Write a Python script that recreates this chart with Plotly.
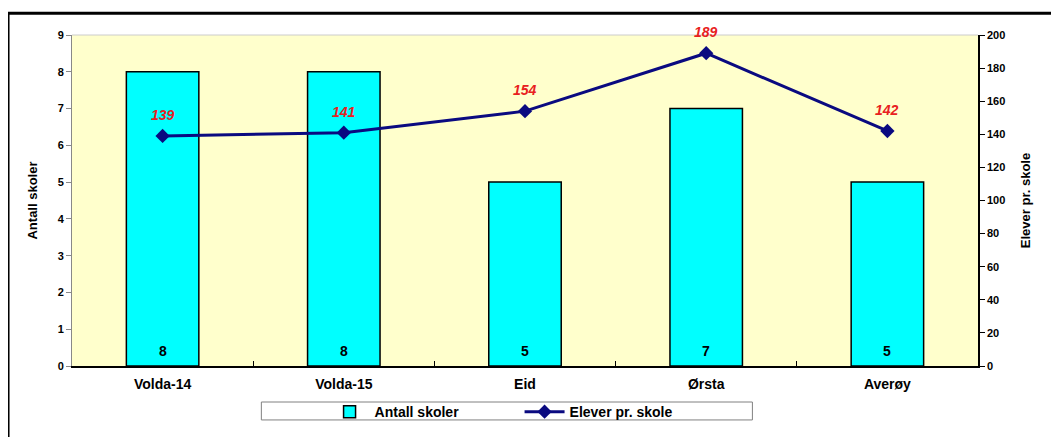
import plotly.graph_objects as go

# Data
kommuner = ["Volda-14", "Volda-15", "Eid", "Ørsta", "Averøy"]
antall_skoler = [8, 8, 5, 7, 5]
elever_pr_skole = [139, 141, 154, 189, 142]

FONT = "Liberation Sans, Arial, sans-serif"

fig = go.Figure()

# Bars: number of schools
fig.add_trace(go.Bar(
    x=kommuner,
    y=antall_skoler,
    name="Antall skoler",
    width=0.4,
    marker=dict(color="#00FFFF", line=dict(color="#000000", width=1.5)),
    yaxis="y",
))

# Line: pupils per school
fig.add_trace(go.Scatter(
    x=kommuner,
    y=elever_pr_skole,
    name="Elever pr. skole",
    mode="lines+markers",
    line=dict(color="#0A0A80", width=3),
    marker=dict(symbol="diamond", size=11, color="#0A0A80"),
    cliponaxis=False,
    yaxis="y2",
))

# Bar value labels near the bar base
for k, v in zip(kommuner, antall_skoler):
    fig.add_annotation(x=k, y=0, yref="y", text=str(v), showarrow=False,
                       yshift=15, font=dict(family=FONT, size=14, color="#000000", weight="bold"))

# Line value labels above the markers
for k, v in zip(kommuner, elever_pr_skole):
    fig.add_annotation(x=k, y=v, yref="y2", text=f"<i>{v}</i>", showarrow=False,
                       yshift=21, font=dict(family=FONT, size=14, color="#E82020", weight="bold"))

# page body adds an 8px offset, so the figure is drawn 8px smaller
fig.update_layout(
    width=1051,
    height=429,
    margin=dict(l=64, r=81, t=27, b=71, autoexpand=False),
    paper_bgcolor="white",
    plot_bgcolor="#FFFFCC",
    font=dict(family=FONT, size=11, color="#000000"),
    showlegend=True,
    legend=dict(
        orientation="h",
        x=0.494, xanchor="center",
        y=-0.091, yanchor="top",
        bgcolor="rgba(0,0,0,0)",
        font=dict(family=FONT, size=14, weight="bold"),
        entrywidth=140,
        itemwidth=40,
    ),
    xaxis=dict(
        showline=True, linecolor="#000000", linewidth=1.5,
        ticks="inside", tickson="boundaries", ticklen=5, tickcolor="#000000",
        tickfont=dict(family=FONT, size=14, weight="bold"),
        ticklabelstandoff=4,
        showgrid=False,
    ),
    yaxis=dict(
        range=[0, 9], dtick=1,
        showline=True, linecolor="#888888", linewidth=1,
        ticks="outside", ticklen=5, tickcolor="#888888",
        tickfont=dict(family=FONT, size=11, weight="bold"),
        showgrid=False, zeroline=False,
        title=dict(text="Antall skoler", font=dict(family=FONT, size=13, weight="bold"), standoff=17),
    ),
    yaxis2=dict(
        range=[0, 200], dtick=20,
        overlaying="y", side="right",
        showline=True, linecolor="#000000", linewidth=1.5,
        ticks="outside", ticklen=5, tickcolor="#000000",
        tickfont=dict(family=FONT, size=11, weight="bold"),
        showgrid=False, zeroline=False,
        title=dict(text="Elever pr. skole", font=dict(family=FONT, size=13, weight="bold"), standoff=17),
    ),
    shapes=[
        # outer chart frame
        dict(type="rect", xref="paper", yref="paper",
             x0=-0.0706, x1=1.2, y0=-0.3, y1=1.066,
             line=dict(color="#000000", width=3)),
        # light top border of plot area
        dict(type="line", xref="paper", yref="paper",
             x0=0, x1=1, y0=1, y1=1,
             line=dict(color="#CCCCCC", width=1)),
        # legend box
        dict(type="rect", xref="paper", yref="paper",
             x0=0.209, x1=0.751, y0=-0.1088, y1=-0.163,
             line=dict(color="#808080", width=1)),
    ],
)

fig.write_html("out.html")
